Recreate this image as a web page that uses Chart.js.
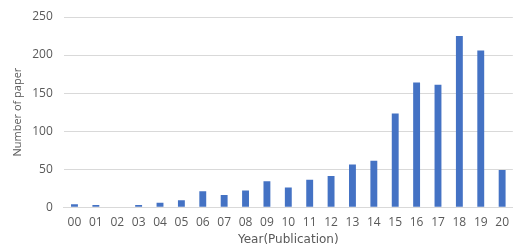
<!DOCTYPE html>
<html>
<head>
<meta charset="utf-8">
<script src="https://cdn.jsdelivr.net/npm/chart.js@4/dist/chart.umd.min.js"></script>
<style>
  html, body { margin: 0; padding: 0; background: #fff; }
  #chart { display: block; }
</style>
</head>
<body>
<canvas id="chart" width="517" height="247"></canvas>
<script>
// Papers published per year (2000-2020)
const years = ['00', '01', '02', '03', '04', '05', '06', '07', '08', '09', '10',
               '11', '12', '13', '14', '15', '16', '17', '18', '19', '20'];
const paperCounts = [4, 3, 0, 3, 6, 9, 21, 16, 22, 34, 26,
                     36, 41, 56, 61, 123, 164, 161, 225, 206, 49];
const yTicks = [0, 50, 100, 150, 200, 250];

const textColor = '#595959';
const gridColor = '#d9d9d9';

const ctx = document.getElementById('chart').getContext('2d');
new Chart(ctx, {
    type: 'bar',
    data: {
        labels: years,
        datasets: [{
            data: paperCounts,
            backgroundColor: '#4472c4',
            barPercentage: 0.62,
            categoryPercentage: 0.52
        }]
    },
    options: {
        responsive: false,
        animation: false,
        layout: { padding: { top: 2, right: 0, bottom: 0, left: 11 } },
        plugins: {
            legend: { display: false },
            tooltip: { enabled: false }
        },
        scales: {
            x: {
                grid: { display: false, drawTicks: false },
                border: { color: gridColor },
                ticks: {
                    color: textColor,
                    font: { family: 'Open Sans', size: 12 },
                    padding: 8,
                    maxRotation: 0
                },
                title: {
                    display: true,
                    text: 'Year(Publication)',
                    color: textColor,
                    font: { family: 'DejaVu Sans', size: 12 },
                    padding: { top: -5, bottom: 0 }
                }
            },
            y: {
                min: 0,
                max: 250,
                afterBuildTicks: (axis) => {
                    axis.ticks = yTicks.map(v => ({ value: v }));
                },
                grid: { color: gridColor, drawTicks: false },
                border: { display: false },
                ticks: {
                    color: textColor,
                    font: { family: 'Open Sans', size: 12, lineHeight: 1 },
                    padding: 11
                },
                title: {
                    display: true,
                    text: 'Number of paper',
                    color: textColor,
                    font: { family: 'Open Sans', size: 11 },
                    padding: { top: 0, bottom: -3 }
                }
            }
        }
    }
});
</script>
</body>
</html>
